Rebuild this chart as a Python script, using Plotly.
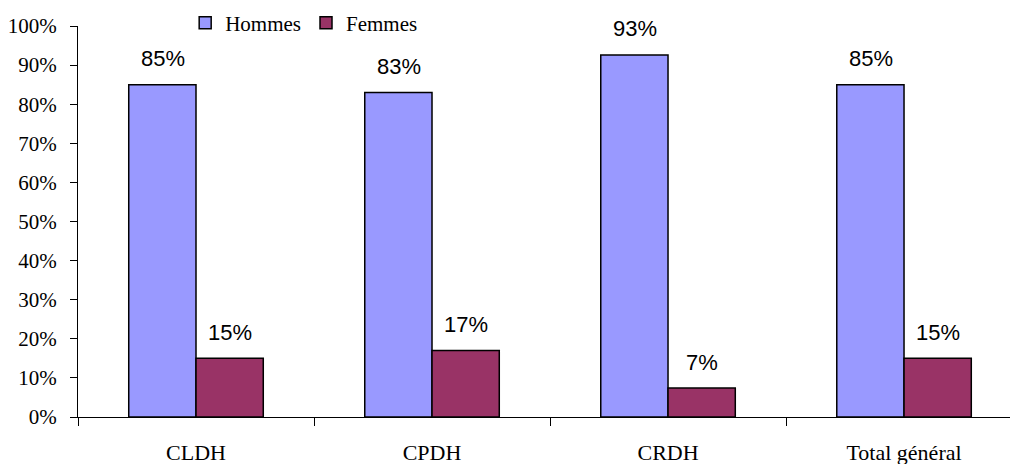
import plotly.graph_objects as go

# Répartition hommes / femmes par type de structure
categories = ["CLDH", "CPDH", "CRDH", "Total général"]
hommes = [0.85, 0.83, 0.926, 0.85]
femmes = [0.15, 0.17, 0.074, 0.15]
y_ticks = [i / 10 for i in range(11)]
y_tick_labels = [f"{i * 10}%" for i in range(11)]

serif = "Liberation Serif, Times New Roman, serif"
sans = "Liberation Sans, Arial, sans-serif"

fig = go.Figure()
fig.add_trace(go.Bar(
    name="Hommes", x=categories, y=hommes,
    marker=dict(color="#9999FF", line=dict(color="#000000", width=1.5)),
))
fig.add_trace(go.Bar(
    name="Femmes", x=categories, y=femmes,
    marker=dict(color="#993366", line=dict(color="#000000", width=1.5)),
))

# Étiquettes de valeur au-dessus de chaque barre
for series, shift in ((hommes, -33.5), (femmes, 33.5)):
    for cat, v in zip(categories, series):
        fig.add_annotation(
            x=cat, y=v, text=f"{v:.0%}", showarrow=False,
            xshift=shift, yshift=26, yanchor="middle",
            font=dict(family=sans, size=22, color="#000000"),
        )

fig.update_layout(
    width=1010, height=464,
    margin=dict(l=78, r=0, t=25.5, b=46.5),
    paper_bgcolor="white", plot_bgcolor="white",
    barmode="group", bargap=0.43, bargroupgap=0,
    showlegend=True,
    legend=dict(
        orientation="h", x=0.115, y=1.06, xanchor="left", yanchor="top",
        font=dict(family=serif, size=21, color="#000000"),
        bgcolor="rgba(0,0,0,0)",
    ),
    font=dict(family=serif, size=21, color="#000000"),
)
fig.update_xaxes(
    range=[-0.5, 3.449], showline=True, linecolor="#000000", linewidth=1,
    ticks="outside", tickson="boundaries", ticklen=8, tickcolor="#000000",
    ticklabelstandoff=16, showgrid=False, zeroline=False,
    tickfont=dict(family=serif, size=22),
)
fig.update_yaxes(
    range=[0, 1], tickvals=y_ticks, ticktext=y_tick_labels,
    showline=True, linecolor="#000000", linewidth=1,
    ticks="outside", ticklen=7, tickcolor="#000000",
    ticklabelstandoff=9, showgrid=False, zeroline=False,
    tickfont=dict(family=serif, size=21),
)

fig.write_html("out.html")
